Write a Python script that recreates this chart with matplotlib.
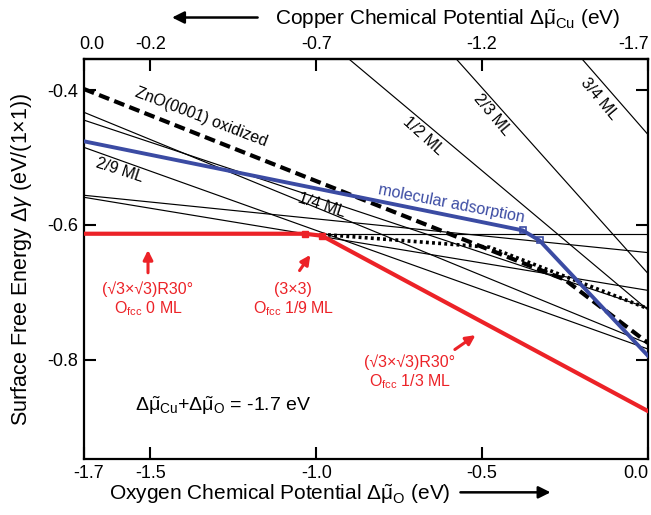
import numpy as np
import matplotlib.pyplot as plt
import matplotlib.transforms as mtransforms

plt.rcParams['font.family'] = ['Liberation Sans', 'DejaVu Sans']
plt.rcParams['mathtext.fontset'] = 'custom'
plt.rcParams['mathtext.rm'] = 'Liberation Sans'
plt.rcParams['mathtext.it'] = 'Liberation Sans:italic'
plt.rcParams['mathtext.sf'] = 'Liberation Sans'
plt.rcParams['axes.unicode_minus'] = False

MU_SUM = -1.7  # Δμ_Cu + Δμ_O (eV)

# stable phases, (Δμ_O, Δγ)
red_mu = [-1.7, -1.034, -0.983, 0.0]
red_gamma = [-0.613, -0.613, -0.616, -0.876]
blue_mu = [-1.7, -0.378, -0.327, 0.0]
blue_gamma = [-0.476, -0.608, -0.623, -0.794]
zno_mu = [-1.7, -0.251, 0.0]
zno_gamma = [-0.3985, -0.681, -0.775]
dot_mu = [-0.983, -0.477, 0.0]
dot_gamma = [-0.614, -0.633, -0.724]

# thin lines of the individual structures, each through two points
thin_mu1 = [-1.7, -1.7, -1.7, -1.7, -1.7, -1.7, -0.899, -0.576, -0.197]
thin_g1 = [-0.613, -0.433, -0.4446, -0.485, -0.556, -0.559, -0.355, -0.355, -0.355]
thin_mu2 = [0.0, 0.0, 0.0, 0.0, 0.0, 0.0, 0.0, 0.0, 0.0]
thin_g2 = [-0.613, -0.776, -0.723, -0.784, -0.641, -0.697, -0.726, -0.672, -0.466]

bottom_ticks = [-1.7, -1.5, -1.0, -0.5, 0.0]
top_ticks = [0.0, -0.2, -0.7, -1.2, -1.7]
y_ticks = [-0.4, -0.6, -0.8]

RED = '#ec2227'
BLUE = '#3b4ba3'

fig = plt.figure(figsize=(6.51, 5.15), dpi=100)
ax = fig.add_axes([0.129, 0.1087, 0.8664, 0.7767])

for x1, y1, x2, y2 in zip(thin_mu1, thin_g1, thin_mu2, thin_g2):
    ax.axline((x1, y1), (x2, y2), color='black', lw=0.85, zorder=2)

ax.plot(zno_mu, zno_gamma, color='black', lw=3.0, ls=(0, (2.6, 1.3)), zorder=3)
ax.plot(dot_mu, dot_gamma, color='black', lw=2.6, ls=(0, (0.8, 0.9)), zorder=3)
ax.plot(blue_mu, blue_gamma, color=BLUE, lw=2.8, marker='s', markevery=[1, 2],
        ms=5, mfc='none', mec=BLUE, mew=1.2, zorder=4)
ax.plot(red_mu, red_gamma, color=RED, lw=3.0, marker='s', markevery=[1, 2],
        ms=5, mfc=RED, mec=RED, zorder=5)

ax.set_xlim(-1.7, 0.0)
ax.set_ylim(-0.947, -0.354)
ax.set_xticks(bottom_ticks)
ax.set_xticklabels([f'{t:.1f}' for t in bottom_ticks])
ax.set_yticks(y_ticks)
ax.set_yticklabels([f'{t:.1f}' for t in y_ticks])
ax.tick_params(direction='in', length=8.5, width=1.5, labelsize=13, pad=4,
               right=True)
for sp in ax.spines.values():
    sp.set_linewidth(1.6)

top = ax.secondary_xaxis('top', functions=(lambda x: MU_SUM - x, lambda t: MU_SUM - t))
top.set_xticks(top_ticks)
top.set_xticklabels([f'{t:.1f}' for t in top_ticks])
top.tick_params(direction='in', length=8.5, width=1.5, labelsize=13, pad=4)
top.spines['top'].set_linewidth(1.6)


def nudge(label, dx_px):
    # shift a tick label sideways so the end labels stay inside the figure
    label.set_transform(label.get_transform()
                        + mtransforms.ScaledTranslation(dx_px / 100, 0, fig.dpi_scale_trans))


fig.canvas.draw()
bl = ax.get_xticklabels()
nudge(bl[0], 5)
nudge(bl[-1], -12)
tl = top.get_xticklabels()
nudge(tl[0], 8)
nudge(tl[-1], -14)

ax.set_ylabel(r'Surface Free Energy $\Delta\gamma$ (eV/(1$\times$1))', fontsize=15.5, labelpad=10)
fig.text(0.430, 0.029, r'Oxygen Chemical Potential $\Delta\tilde{\mathrm{\mu}}_{\mathrm{O}}$ (eV)',
         fontsize=15, ha='center', va='baseline')
fig.text(0.687, 0.952, r'Copper Chemical Potential $\Delta\tilde{\mathrm{\mu}}_{\mathrm{Cu}}$ (eV)',
         fontsize=15, ha='center', va='baseline')
fig.add_artist(plt.Annotation('', xy=(0.85, 0.044), xytext=(0.703, 0.044), xycoords='figure fraction',
                              arrowprops=dict(arrowstyle='-|>', color='black', lw=1.8, mutation_scale=18)))
fig.add_artist(plt.Annotation('', xy=(0.26, 0.966), xytext=(0.40, 0.966), xycoords='figure fraction',
                              arrowprops=dict(arrowstyle='-|>', color='black', lw=1.8, mutation_scale=18)))

# line labels
ax.text(-1.348, -0.440, 'ZnO(0001) oxidized', rotation=-21, fontsize=11.5, ha='center', va='center')
ax.text(-1.592, -0.519, '2/9 ML', rotation=-18, fontsize=11.5, ha='center', va='center')
ax.text(-0.983, -0.571, '1/4 ML', rotation=-18, fontsize=11.5, ha='center', va='center')
ax.text(-0.679, -0.468, '1/2 ML', rotation=-42, fontsize=11.5, ha='center', va='center')
ax.text(-0.471, -0.437, '2/3 ML', rotation=-50, fontsize=11.5, ha='center', va='center')
ax.text(-0.146, -0.413, '3/4 ML', rotation=-50, fontsize=11.5, ha='center', va='center')
ax.text(-0.592, -0.568, 'molecular adsorption', rotation=-11, fontsize=11.5, color=BLUE,
        ha='center', va='center')

# phase annotations
arrow_kw = dict(arrowstyle='-|>', color=RED, lw=2.2, mutation_scale=14)
ax.annotate('', xy=(-1.507, -0.633), xytext=(-1.507, -0.675), arrowprops=arrow_kw)
ax.text(-1.507, -0.711, '(√3×√3)R30°\nO$_{\\mathrm{fcc}}$ 0 ML', color=RED, fontsize=11.5,
        ha='center', va='center', linespacing=1.2)
ax.annotate('', xy=(-1.013, -0.641), xytext=(-1.055, -0.671), arrowprops=arrow_kw)
ax.text(-1.070, -0.711, '(3×3)\nO$_{\\mathrm{fcc}}$ 1/9 ML', color=RED, fontsize=11.5,
        ha='center', va='center', linespacing=1.2)
ax.annotate('', xy=(-0.513, -0.761), xytext=(-0.589, -0.787), arrowprops=arrow_kw)
ax.text(-0.718, -0.819, '(√3×√3)R30°\nO$_{\\mathrm{fcc}}$ 1/3 ML', color=RED, fontsize=11.5,
        ha='center', va='center', linespacing=1.2)

ax.text(-1.546, -0.868,
        r'$\Delta\tilde{\mathrm{\mu}}_{\mathrm{Cu}}$+$\Delta\tilde{\mathrm{\mu}}_{\mathrm{O}}$ = -1.7 eV',
        fontsize=14, ha='left', va='center')

fig.savefig('out.png', dpi=100)
